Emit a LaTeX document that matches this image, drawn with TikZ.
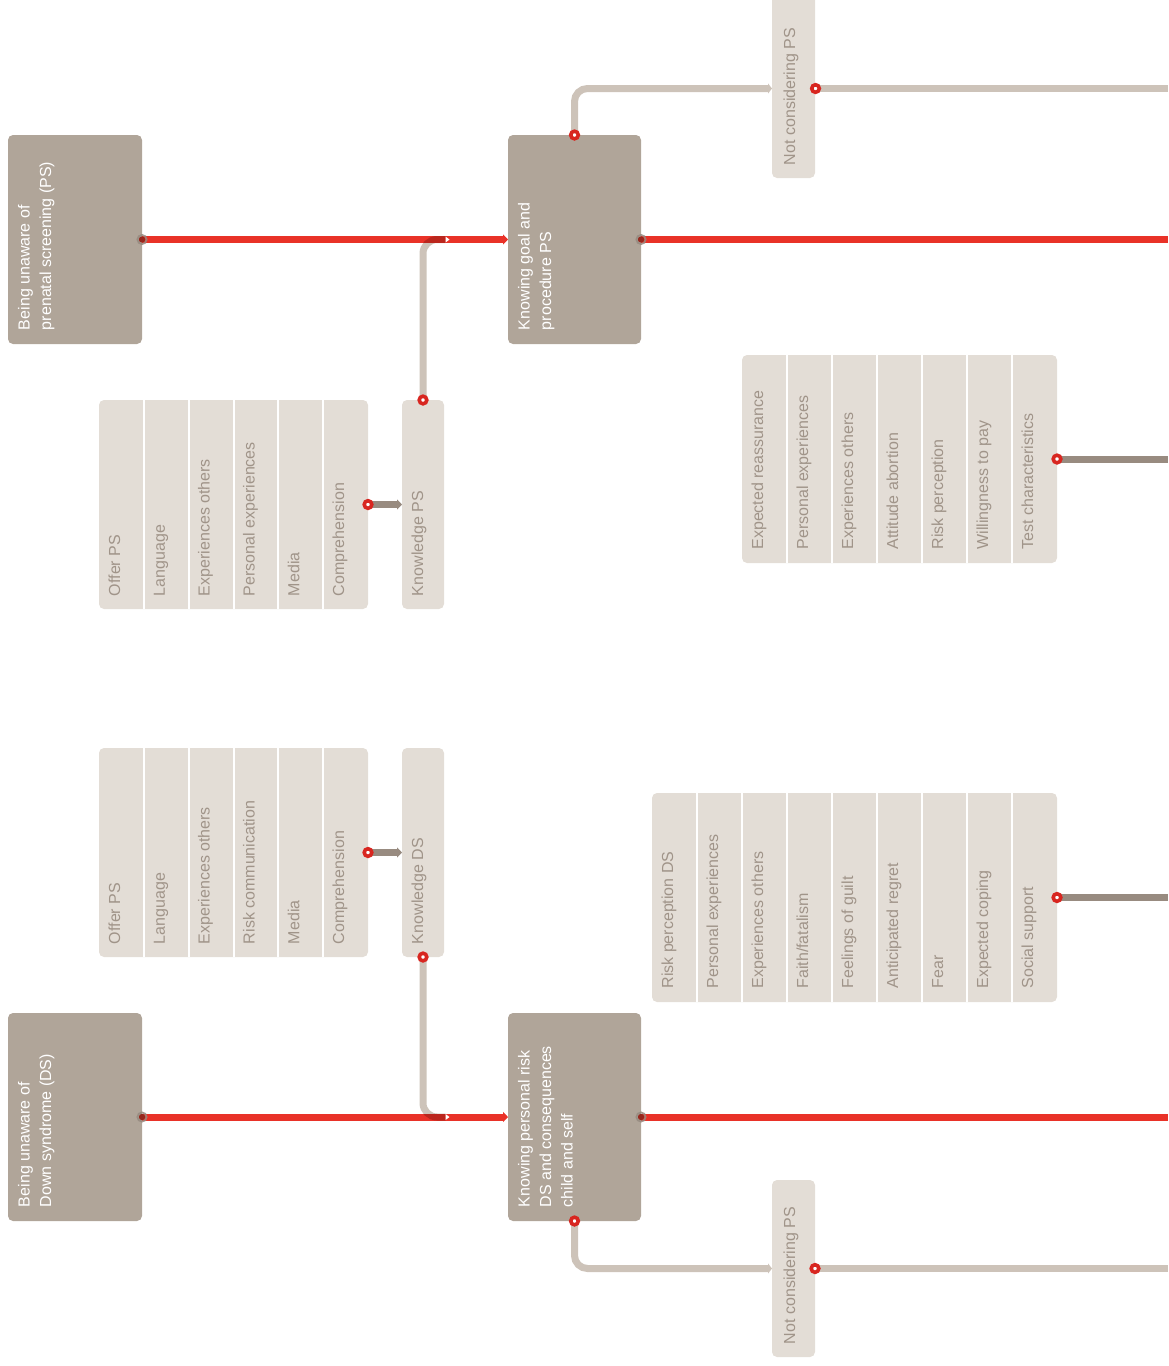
\documentclass[tikz,border=0pt]{standalone}
\usepackage{fontspec}
\setmainfont{Liberation Sans}
\usetikzlibrary{arrows.meta}

\definecolor{stagefill}{RGB}{176,165,153}
\definecolor{factorfill}{RGB}{227,221,214}
\definecolor{factorink}{RGB}{160,148,137}
\definecolor{pathred}{RGB}{233,50,40}
\definecolor{ringred}{RGB}{216,38,32}
\definecolor{sideline}{RGB}{205,195,185}
\definecolor{factorline}{RGB}{152,139,128}
\definecolor{startring}{RGB}{150,138,128}
\definecolor{startcore}{RGB}{150,40,30}

\tikzset{
  every node/.style={inner sep=0pt, outer sep=0pt},
  stagebox/.style={fill=stagefill, rounded corners=5pt, anchor=north west, minimum height=209pt},
  factorbox/.style={fill=factorfill, rounded corners=5pt, anchor=north west},
  stagetext/.style={text=white, font=\fontsize{16}{21.5}\selectfont, align=left, rotate=90, anchor=north west},
  factortext/.style={text=factorink, font=\fontsize{16}{19}\selectfont, rotate=90, anchor=base west},
  mainpath/.style={draw=pathred, line width=7pt},
  sidepath/.style={draw=sideline, line width=7pt, rounded corners=13pt},
  factorpath/.style={draw=factorline, line width=7pt},
  tipend/.style={-{Triangle[width=10pt,length=5pt]}},
  ringmark/.style={draw=ringred, line width=3.6pt, fill=white},
  startmark/.style={draw=startring, line width=1.8pt, opacity=0.85},
  separator/.style={draw=white, line width=2pt}
}

\begin{document}
\begin{tikzpicture}[x=1pt,y=-1pt]
\useasboundingbox (0,0) rectangle (1168,1366);
\clip (0,0) rectangle (1168,1366);
\coordinate (rim) at (1168,0);

% ---------- stages ----------
\node[stagebox, minimum width=134pt] (a1) at (8,135) {};
\node[stagebox, minimum width=133pt] (a2) at (508,135) {};
\node[stagebox, minimum width=134pt, minimum height=208pt] (b1) at (8,1013) {};
\node[stagebox, minimum width=133pt, minimum height=208pt] (b2) at (508,1013) {};

\node[stagetext] (a1t) at ([xshift=10pt, yshift=14pt]a1.south west) {Being unaware of\\prenatal screening (PS)};
\node[stagetext] (a2t) at ([xshift=10pt, yshift=14pt]a2.south west) {Knowing goal and\\procedure PS};
\node[stagetext] (b1t) at ([xshift=10pt, yshift=14pt]b1.south west) {Being unaware of\\Down syndrome (DS)};
\node[stagetext] (b2t) at ([xshift=10pt, yshift=14pt]b2.south west) {Knowing personal risk\\DS and consequences\\child and self};

% ---------- not considering PS ----------
\node[factorbox, minimum width=43pt, minimum height=190pt] (nc1) at (772,-12) {};
\node[factorbox, minimum width=43pt, minimum height=177pt] (nc2) at (772,1180) {};
\coordinate (nc1w) at (772,88.5);
\coordinate (nc1e) at (815.5,88.5);
\node[factortext] (nc1t) at (795,165) {Not considering PS};
\node[factortext] (nc2t) at (795,1344) {Not considering PS};

% ---------- factor groups ----------
\node[factorbox, minimum width=269pt, minimum height=209pt] (g1) at (99,400) {};
\foreach \k in {1,...,5} \draw[separator] ({99+\k*269/6},400) -- ++(0,209);
\foreach \t [count=\i] in {Offer PS,Language,Experiences others,Personal experiences,Media,Comprehension}
  \node[factortext] (g1f\i) at ({99+(\i-1)*269/6+21},596) {\t};

\node[factorbox, minimum width=42pt, minimum height=209pt] (kps) at (402,400) {};
\node[factortext] (kpst) at (423,596) {Knowledge PS};

\node[factorbox, minimum width=315pt, minimum height=208pt] (g2) at (742,355) {};
\foreach \k in {1,...,6} \draw[separator] ({742+\k*45},355) -- ++(0,208);
\foreach \t [count=\i] in {Expected reassurance,Personal experiences,Experiences others,Attitude abortion,Risk perception,Willingness to pay,Test characteristics}
  \node[factortext] (g2f\i) at ({742+(\i-1)*45+21},549.5) {\t};

\node[factorbox, minimum width=269pt, minimum height=209pt] (g3) at (99,748) {};
\foreach \k in {1,...,5} \draw[separator] ({99+\k*269/6},748) -- ++(0,209);
\foreach \t [count=\i] in {Offer PS,Language,Experiences others,Risk communication,Media,Comprehension}
  \node[factortext] (g3f\i) at ({99+(\i-1)*269/6+21},944) {\t};

\node[factorbox, minimum width=42pt, minimum height=209pt] (kds) at (402,748) {};
\node[factortext] (kdst) at (423,944) {Knowledge DS};

\node[factorbox, minimum width=405pt, minimum height=209pt] (g4) at (652,793) {};
\foreach \k in {1,...,8} \draw[separator] ({652+\k*45},793) -- ++(0,209);
\foreach \t [count=\i] in {Risk perception DS,Personal experiences,Experiences others,Faith/fatalism,Feelings of guilt,Anticipated regret,Fear,Expected coping,Social support}
  \node[factortext] (g4f\i) at ({652+(\i-1)*45+21},988.5) {\t};

% ---------- main pathway ----------
\draw[mainpath, tipend] (a1.east) -- (a2.west);
\draw[mainpath] (a2.east) -- (a2.east -| rim);
\draw[mainpath, tipend] (b1.east) -- (b2.west);
\draw[mainpath] (b2.east) -- (b2.east -| rim);

% ---------- knowledge joining the pathway ----------
\coordinate (j1) at (445.5,239.5);
\coordinate (j2) at (445.5,1117);
\begin{scope}[blend mode=multiply]
  \draw[sidepath, rounded corners=14pt] (kps.north) |- (j1);
  \draw[sidepath, rounded corners=14pt] (kds.south) |- (j2);
\end{scope}
\fill[white] (j1) ++(0,-3) -- ++(4,3) -- ++(-4,3) -- cycle;
\fill[white] (j2) ++(0,-3) -- ++(4,3) -- ++(-4,3) -- cycle;

% ---------- leaving the pathway ----------
\draw[sidepath, -{Triangle[width=10pt,length=4pt]}] (a2.north) |- (nc1w);
\draw[sidepath] (nc1e) -- (nc1e -| rim);
\draw[sidepath, -{Triangle[width=10pt,length=4pt]}] (b2.south) |- (nc2.west);
\draw[sidepath] (nc2.east) -- (nc2.east -| rim);

% ---------- factor links ----------
\draw[factorpath, tipend] (g1.east) -- (kps.west);
\draw[factorpath] (g2.east) -- (g2.east -| rim);
\draw[factorpath, tipend] (g3.east) -- (kds.west);
\draw[factorpath] (g4.east) -- (g4.east -| rim);

% ---------- markers ----------
\foreach \p in {g1.east,kps.north,g2.east,g3.east,kds.south,g4.east,a2.north,b2.south,nc1e,nc2.east}
  \draw[ringmark] (\p) circle (3.8);
\foreach \p in {a1.east,a2.east,b1.east,b2.east} {
  \fill[startcore] (\p) circle (3.2);
  \draw[startmark] (\p) circle (4.6);
}
\end{tikzpicture}
\end{document}
